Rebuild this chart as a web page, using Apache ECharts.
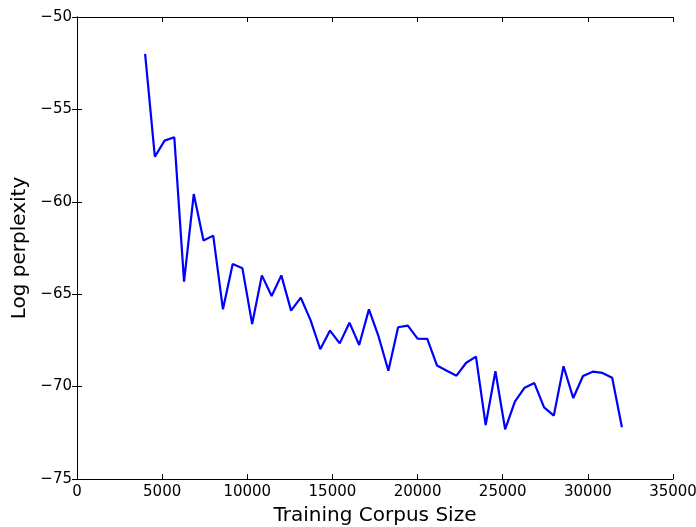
<!DOCTYPE html>
<html>
<head>
<meta charset="utf-8">
<script src="https://cdn.jsdelivr.net/npm/echarts@6/dist/echarts.min.js"></script>
<style>
  html, body { margin: 0; padding: 0; background: #fff; }
  #chart { width: 696px; height: 527px; }
</style>
</head>
<body>
<div id="chart"></div>
<script>
// training corpus sizes (x) and log perplexity (y)
const corpusSize = [
  4000, 4571, 5143, 5714, 6286, 6857, 7429, 8000, 8571, 9143,
  9714, 10286, 10857, 11429, 12000, 12571, 13143, 13714, 14286, 14857,
  15429, 16000, 16571, 17143, 17714, 18286, 18857, 19429, 20000, 20571,
  21143, 21714, 22286, 22857, 23429, 24000, 24571, 25143, 25714, 26286,
  26857, 27429, 28000, 28571, 29143, 29714, 30286, 30857, 31429, 32000
]
const logPerplexity = [
  -52.0, -57.56, -56.69, -56.51, -64.32, -59.58, -62.09, -61.83, -65.82, -63.37,
  -63.6, -66.61, -63.98, -65.1, -63.98, -65.89, -65.19, -66.4, -67.98, -66.97,
  -67.66, -66.54, -67.75, -65.82, -67.3, -69.14, -66.79, -66.7, -67.4, -67.42,
  -68.86, -69.14, -69.41, -68.71, -68.38, -72.08, -69.17, -72.31, -70.81, -70.06,
  -69.81, -71.12, -71.57, -68.9, -70.62, -69.43, -69.19, -69.26, -69.52, -72.2
]
const xTicks = { min: 0, max: 35000, interval: 5000 }
const yTicks = { min: -75, max: -50, interval: 5 }

const font = 'DejaVu Sans'
const minus = v => String(v).replace('-', '\u2212')

const axisLine = { show: true, lineStyle: { color: '#000', width: 1 } }
const axisTick = { show: true, inside: true, length: 5, lineStyle: { color: '#000' } }
const labelStyle = { fontFamily: font, fontSize: 15, color: '#000' }
const nameStyle = { fontFamily: font, fontSize: 20, color: '#000' }

const chart = echarts.init(document.getElementById('chart'))
chart.setOption({
  backgroundColor: '#fff',
  animation: false,
  grid: { left: 77, top: 17, right: 23, bottom: 48, outerBoundsMode: 'none' },
  xAxis: [
    {
      type: 'value',
      ...xTicks,
      position: 'bottom',
      name: 'Training Corpus Size',
      nameLocation: 'middle',
      nameGap: 27,
      nameTextStyle: nameStyle,
      axisLine,
      axisTick,
      splitLine: { show: false },
      axisLabel: { ...labelStyle, margin: 6, formatter: minus }
    },
    {
      type: 'value',
      ...xTicks,
      position: 'top',
      axisLine,
      axisTick,
      splitLine: { show: false },
      axisLabel: { show: false }
    }
  ],
  yAxis: [
    {
      type: 'value',
      ...yTicks,
      position: 'left',
      name: 'Log perplexity',
      nameLocation: 'middle',
      nameGap: 44,
      nameTextStyle: nameStyle,
      axisLine,
      axisTick,
      splitLine: { show: false },
      axisLabel: { ...labelStyle, margin: 5, formatter: minus }
    },
    {
      type: 'value',
      ...yTicks,
      position: 'right',
      axisLine,
      axisTick,
      splitLine: { show: false },
      axisLabel: { show: false }
    }
  ],
  series: [
    {
      type: 'line',
      xAxisIndex: 0,
      yAxisIndex: 0,
      showSymbol: false,
      lineStyle: { color: '#0000ff', width: 2.2 },
      data: corpusSize.map((x, i) => [x, logPerplexity[i]])
    }
  ]
})
</script>
</body>
</html>
